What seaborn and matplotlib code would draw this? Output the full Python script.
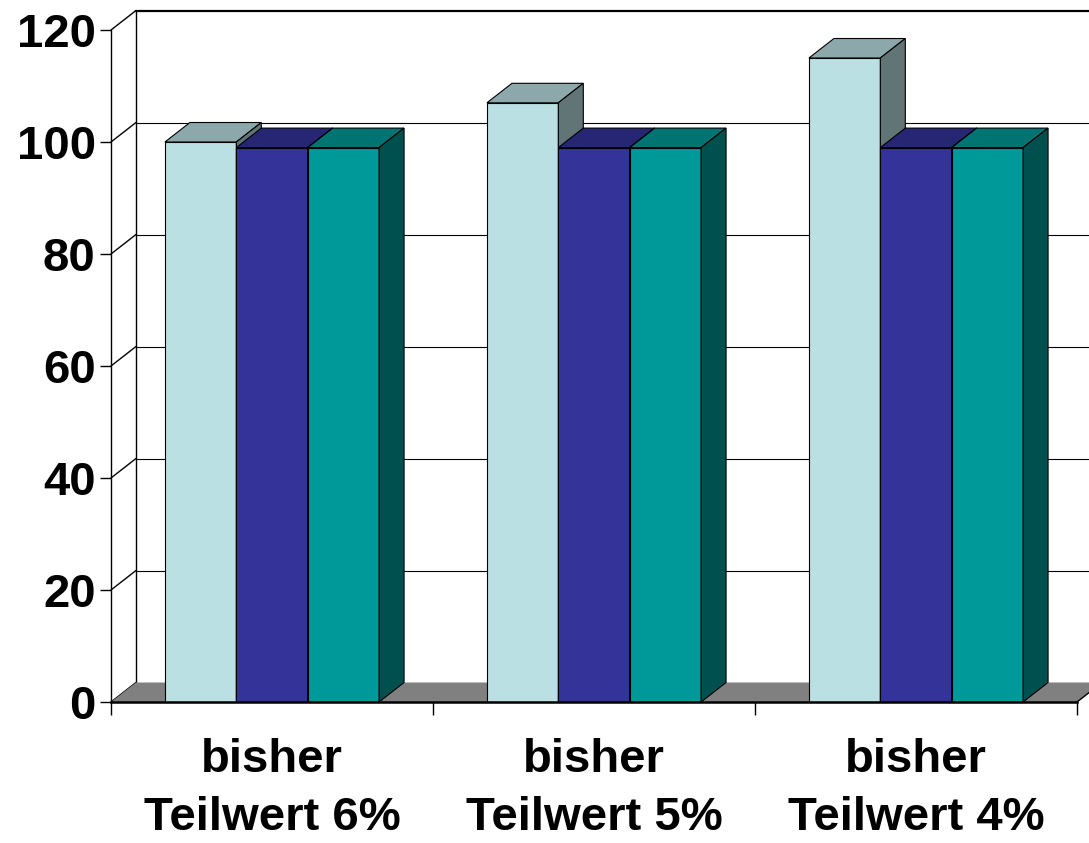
import matplotlib
matplotlib.use("Agg")
import matplotlib.pyplot as plt
from matplotlib.patches import Polygon
from matplotlib.lines import Line2D
import numpy as np
import pandas as pd
import seaborn as sns

# ---- data -------------------------------------------------------------
categories = ["bisher\nTeilwert 6%", "bisher\nTeilwert 5%", "bisher\nTeilwert 4%"]
series_names = ["Reihe 1", "Reihe 2", "Reihe 3"]
reihe1 = [100, 107, 115]
reihe2 = [99, 99, 99]
reihe3 = [99, 99, 99]
y_ticks = [0, 20, 40, 60, 80, 100, 120]

front_colors = ["#BBE0E3", "#333399", "#009999"]

# ---- style ------------------------------------------------------------
sns.set_style("white")
plt.rcParams["font.family"] = ["Liberation Sans", "DejaVu Sans"]
plt.rcParams["font.weight"] = "bold"
plt.rcParams["text.color"] = "black"
plt.rcParams["xtick.color"] = "black"
plt.rcParams["ytick.color"] = "black"

df = pd.DataFrame({
    "cat": np.repeat(categories, 3),
    "series": series_names * 3,
    "val": [v for trip in zip(reihe1, reihe2, reihe3) for v in trip],
})

W, H = 1089, 843
fig = plt.figure(figsize=(W / 100, H / 100), dpi=100, facecolor="white")
ax = fig.add_axes([111 / W, 141 / H, 966 / W, 672 / H])
ax.patch.set_visible(False)

sns.barplot(data=df, x="cat", y="val", hue="series", order=categories,
            hue_order=series_names, palette=front_colors, saturation=1,
            width=0.665, edgecolor="black", linewidth=0.8, legend=False,
            errorbar=None, ax=ax)

ax.set_xlim(-0.5, 2.5)
ax.set_ylim(0, 120)

# depth of the 3-D box, in pixels, converted into data units
p0 = ax.transData.transform((0, 0))
p1 = ax.transData.transform((1, 1))
DX = 25 / (p1[0] - p0[0])
DY = 19.5 / (p1[1] - p0[1])

x_lo, x_hi = -0.5, 2.5
ymax = 120

# back wall
ax.add_patch(Polygon([(x_lo + DX, DY), (x_hi + DX, DY), (x_hi + DX, ymax + DY),
                      (x_lo + DX, ymax + DY)], closed=True, fc="white", ec="none",
                     zorder=0.1, clip_on=False))
for v in y_ticks[1:-1]:
    ax.add_line(Line2D([x_lo + DX, x_hi + DX], [v + DY, v + DY], color="black",
                       lw=0.8, zorder=0.5, clip_on=False))
ax.add_line(Line2D([x_lo + DX, x_hi + DX], [ymax + DY, ymax + DY], color="black",
                   lw=1.6, zorder=0.5, clip_on=False))
ax.add_line(Line2D([x_lo + DX, x_lo + DX], [DY, ymax + DY], color="black",
                   lw=1.0, zorder=0.5, clip_on=False))
# left wall edges
for v in y_ticks:
    ax.add_line(Line2D([x_lo, x_lo + DX], [v, v + DY], color="black", lw=1.0,
                       zorder=0.5, clip_on=False))

# floor
ax.add_patch(Polygon([(x_lo, 0), (x_hi, 0), (x_hi + DX, DY), (x_lo + DX, DY)],
                     closed=True, fc="#808080", ec="none", zorder=1, clip_on=False))
ax.add_line(Line2D([x_hi, x_hi + DX], [0, DY], color="black", lw=1.0,
                   zorder=1.2, clip_on=False))


def shade(hex_color, f):
    rgb = np.array(matplotlib.colors.to_rgb(hex_color))
    return tuple(rgb * f)


# top and side faces of every bar
for k, cont in enumerate(ax.containers):
    base = front_colors[k]
    top_c = shade(base, 0.75)
    side_c = shade(base, 0.52)
    z = 3 + k
    for patch in cont:
        x0 = patch.get_x()
        w = patch.get_width()
        h = patch.get_height()
        patch.set_zorder(z)
        patch.set_clip_on(False)
        ax.add_patch(Polygon([(x0, h), (x0 + w, h), (x0 + w + DX, h + DY),
                              (x0 + DX, h + DY)], closed=True, fc=top_c,
                             ec="black", lw=0.8, zorder=z, clip_on=False))
        ax.add_patch(Polygon([(x0 + w, 0), (x0 + w + DX, DY), (x0 + w + DX, h + DY),
                              (x0 + w, h)], closed=True, fc=side_c,
                             ec="black", lw=0.8, zorder=z, clip_on=False))

# axes, ticks, labels
for s in ["top", "right"]:
    ax.spines[s].set_visible(False)
ax.spines["left"].set_color("black")
ax.spines["left"].set_linewidth(1.0)
ax.spines["bottom"].set_color("black")
ax.spines["bottom"].set_linewidth(1.8)
ax.spines["bottom"].set_zorder(10)

ax.set_yticks(y_ticks)
ax.set_yticklabels([str(t) for t in y_ticks], fontsize=34, fontweight="bold",
                   color="black")
ax.tick_params(axis="y", length=8, width=1.0, color="black", pad=3, left=True)

ax.set_xticks(range(len(categories)))
ax.set_xticklabels(categories, fontsize=34, fontweight="bold", linespacing=1.42,
                   color="black")
ax.set_xticks([-0.5, 0.5, 1.5, 2.5], minor=True)
ax.tick_params(axis="x", which="major", length=0, pad=26)
ax.tick_params(axis="x", which="minor", length=9, width=1.0, color="black",
               bottom=True)

ax.set_xlabel("")
ax.set_ylabel("")

fig.savefig("out.png", dpi=100, facecolor="white")
